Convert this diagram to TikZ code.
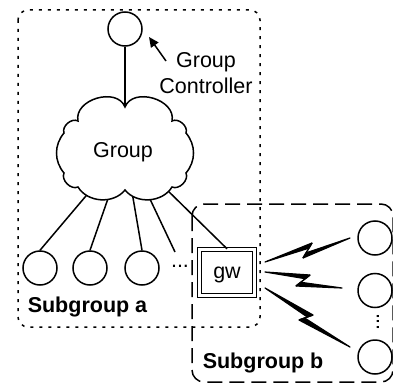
\documentclass[tikz,border=0pt]{standalone}
\usepackage{fontspec}
\setmainfont{Liberation Sans}
\usetikzlibrary{calc,arrows.meta}

% lightning link: start, upper kink, lower kink, end
\newcommand\zap[4]{%
  \filldraw[line width=1.2pt,line join=round] (#1) -- (#2) -- ($(#2)!6pt!(#3)$) -- cycle;
  \draw[line width=1.4pt] (#2) -- (#3);
  \filldraw[line width=1.2pt,line join=round] (#4) -- (#3) -- ($(#3)!6pt!(#2)$) -- cycle;
}

\begin{document}
\begin{tikzpicture}[x=1pt,y=-1pt,line width=1.5pt,
  every node/.style={font=\fontsize{21.5pt}{26pt}\selectfont},
  member/.style={circle,draw,fill=white,minimum size=34pt,inner sep=0pt},
  gateway/.style={draw,double,double distance=2.3pt,fill=white,
    minimum width=55pt,minimum height=46pt,inner sep=0pt,text depth=0pt},
  areaA/.style={dash pattern=on 3pt off 6pt,rounded corners=10pt},
  areaB/.style={dash pattern=on 15pt off 7pt,rounded corners=12pt},
  tag/.style={font=\fontsize{21.5pt}{26pt}\selectfont\bfseries,anchor=base west,inner sep=0pt},
]
\useasboundingbox (0,0) rectangle (393,385);

% subgroup areas
\draw[areaA] (18,10) rectangle (260,327);
\draw[areaB] (192,204) rectangle (393,382);

% group controller
\node[member] (ctrl) at (125,29) {};
\node[align=center,anchor=north,inner sep=0pt] (ctrlLabel) at (206,52) {Group\\Controller};
\coordinate (gcTail) at (166,61);
\coordinate (gcTip) at (149,37);
\draw[-{Triangle[length=10pt,width=9pt]}] (gcTail) -- (gcTip);

% members of subgroup a
\node[member] (m1) at (40,268) {};
\node[member] (m2) at (90,268) {};
\node[member] (m3) at (142,268) {};
\node[inner sep=0pt] (mdots) at (180,266) {...};
\coordinate (m4) at (175,252);

% gateway
\node[gateway] (gw) at (227,272.5) {gw};

% attachment points on the cloud
\coordinate (cTop) at (125,107);
\coordinate (a1) at (91,190);
\coordinate (a2) at (109.6,194);
\coordinate (a3) at (132,192);
\coordinate (a4) at (147.6,194);
\coordinate (a5) at (162,185);

\draw (ctrl) -- (cTop);
\draw (a1) -- (m1.north);
\draw (a2) -- (m2.north);
\draw (a3) -- (m3.north);
\draw (a4) -- (m4);
\draw (a5) -- (gw.north);

% the group cloud
\draw[fill=white] (cTop) to[bend left=85,looseness=1.15] (172,121)
  to[bend left=70] (186,133) to[bend left=40] (186,173)
  to[bend left=70] (172,187) to[bend left=55] (125,190)
  to[bend left=55] (78,187) to[bend left=70] (64,173)
  to[bend left=40] (64,133) to[bend left=70] (78,121)
  to[bend left=85,looseness=1.15] cycle;
\node[anchor=base] (grp) at (123,157) {Group};

% members of subgroup b
\node[member] (r1) at (375,238) {};
\node[member] (r2) at (375,290.5) {};
\node[member] (r3) at (375,357) {};
\node[rotate=90,inner sep=0pt] (rdots) at (378,322) {...};

% wireless links
\coordinate (z1s) at (265,262); \coordinate (z1a) at (312,243);
\coordinate (z1b) at (303,258); \coordinate (z1e) at (350,238);
\coordinate (z2s) at (265,272); \coordinate (z2a) at (310,275);
\coordinate (z2b) at (296,286); \coordinate (z2e) at (342,288);
\coordinate (z3s) at (265,288); \coordinate (z3a) at (313,315);
\coordinate (z3b) at (299,320); \coordinate (z3e) at (350,347);
\zap{z1s}{z1a}{z1b}{z1e}
\zap{z2s}{z2a}{z2b}{z2e}
\zap{z3s}{z3a}{z3b}{z3e}

% area labels
\node[tag] (tagA) at (27,312) {Subgroup a};
\node[tag] (tagB) at (202,368) {Subgroup b};
\end{tikzpicture}
\end{document}
